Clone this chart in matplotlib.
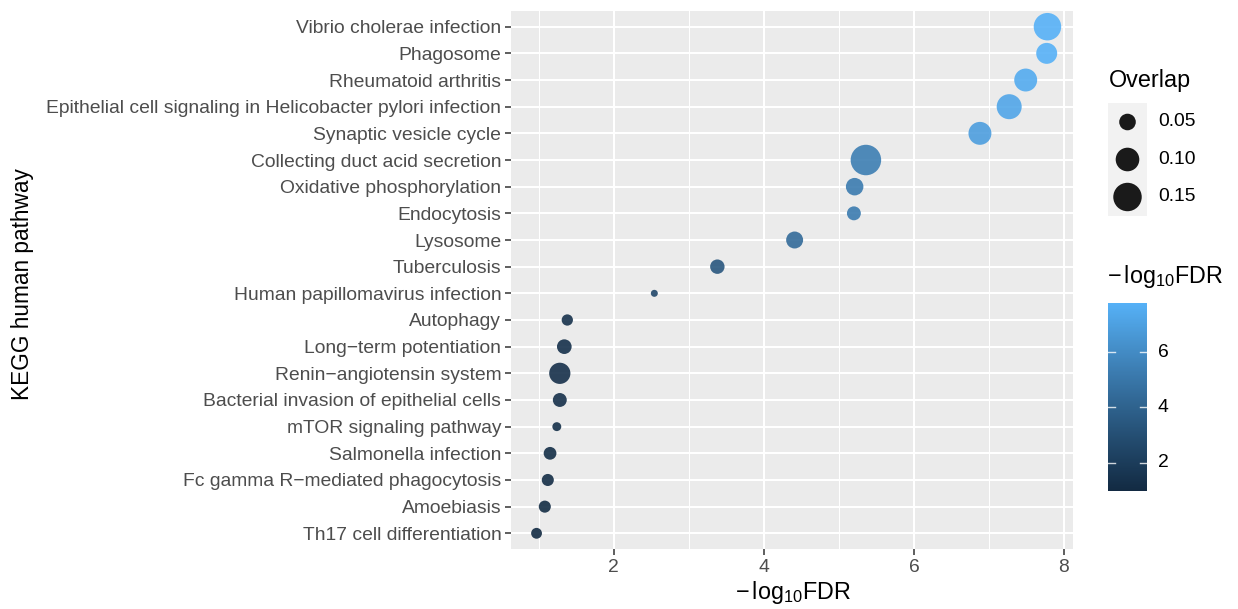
import numpy as np
import matplotlib
matplotlib.use("Agg")
import matplotlib.pyplot as plt
from matplotlib.colors import ListedColormap, Normalize

plt.rcParams['font.family'] = ['Liberation Sans', 'DejaVu Sans']
plt.rcParams['mathtext.fontset'] = 'custom'
plt.rcParams['mathtext.rm'] = 'Liberation Sans'
plt.rcParams['mathtext.it'] = 'Liberation Sans:italic'
plt.rcParams['mathtext.bf'] = 'Liberation Sans:bold'
plt.rcParams['mathtext.sf'] = 'Liberation Sans'

pathways = [
    "Vibrio cholerae infection",
    "Phagosome",
    "Rheumatoid arthritis",
    "Epithelial cell signaling in Helicobacter pylori infection",
    "Synaptic vesicle cycle",
    "Collecting duct acid secretion",
    "Oxidative phosphorylation",
    "Endocytosis",
    "Lysosome",
    "Tuberculosis",
    "Human papillomavirus infection",
    "Autophagy",
    "Long\u2212term potentiation",
    "Renin\u2212angiotensin system",
    "Bacterial invasion of epithelial cells",
    "mTOR signaling pathway",
    "Salmonella infection",
    "Fc gamma R\u2212mediated phagocytosis",
    "Amoebiasis",
    "Th17 cell differentiation",
]
neg_log10_fdr = [7.78, 7.77, 7.49, 7.27, 6.88, 5.36, 5.21, 5.20, 4.41, 3.38,
                 2.54, 1.38, 1.34, 1.28, 1.28, 1.24, 1.15, 1.12, 1.08, 0.97]
overlap = [0.139, 0.078, 0.094, 0.113, 0.094, 0.175, 0.055, 0.038, 0.052, 0.040,
           0.025, 0.030, 0.041, 0.080, 0.038, 0.026, 0.034, 0.032, 0.032, 0.029]
size_breaks = [0.05, 0.10, 0.15]
color_breaks = [2, 4, 6]

# ---- ggplot-like Lab gradient #132B43 -> #56B1F7 ----
def hex2rgb(h):
    h = h.lstrip('#')
    return np.array([int(h[i:i + 2], 16) / 255 for i in (0, 2, 4)])

M = np.array([[0.4124564, 0.3575761, 0.1804375],
              [0.2126729, 0.7151522, 0.0721750],
              [0.0193339, 0.1191920, 0.9503041]])
WHITE = np.array([0.95047, 1.0, 1.08883])

def rgb2lab(c):
    lin = np.where(c <= 0.04045, c / 12.92, ((c + 0.055) / 1.055) ** 2.4)
    xyz = M @ lin / WHITE
    f = np.where(xyz > (6 / 29) ** 3, np.cbrt(xyz), xyz / (3 * (6 / 29) ** 2) + 4 / 29)
    return np.array([116 * f[1] - 16, 500 * (f[0] - f[1]), 200 * (f[1] - f[2])])

def lab2rgb(lab):
    fy = (lab[0] + 16) / 116
    fx = fy + lab[1] / 500
    fz = fy - lab[2] / 200
    f = np.array([fx, fy, fz])
    xyz = np.where(f > 6 / 29, f ** 3, 3 * (6 / 29) ** 2 * (f - 4 / 29)) * WHITE
    lin = np.linalg.solve(M, xyz)
    lin = np.clip(lin, 0, 1)
    c = np.where(lin <= 0.0031308, 12.92 * lin, 1.055 * lin ** (1 / 2.4) - 0.055)
    return np.clip(c, 0, 1)

lab_lo, lab_hi = rgb2lab(hex2rgb('#132B43')), rgb2lab(hex2rgb('#56B1F7'))
cmap = ListedColormap([lab2rgb(lab_lo + t * (lab_hi - lab_lo)) for t in np.linspace(0, 1, 256)])

x = np.array(neg_log10_fdr)
ov = np.array(overlap)
norm = Normalize(vmin=x.min(), vmax=x.max())

vmin, vmax = ov.min(), ov.max()
def diam_pt(v):
    size_mm = 1 + 5 * np.sqrt(np.clip((np.asarray(v) - vmin) / (vmax - vmin), 0, 1))
    return (4.7 * size_mm + 2.3) * 0.72

TXT = 13.9
TTL = 16.8
FDR_LABEL = r'$\mathregular{-\,log_{10}FDR}$'

W, H = 1238, 609
PL, PR, PT, PB = 511, 1073, 10.7, 549.3
fig = plt.figure(figsize=(W / 100, H / 100), dpi=100)
ax = fig.add_axes([PL / W, 1 - PB / H, (PR - PL) / W, (PB - PT) / H])
ax.set_facecolor('#EBEBEB')
n = len(pathways)
ypos = n - np.arange(n)

ax.scatter(x, ypos, s=diam_pt(ov) ** 2, c=x, cmap=cmap, norm=norm,
           linewidths=0, alpha=0.9, zorder=3)

rng = x.max() - x.min()
ax.set_xlim(x.min() - 0.05 * rng, x.max() + 0.05 * rng)
ax.set_ylim(0.4, n + 0.6)
ax.set_xticks([2, 4, 6, 8])
ax.set_xticks([1, 3, 5, 7], minor=True)
ax.set_yticks(ypos)
ax.set_yticklabels(pathways)
ax.grid(True, which='major', color='white', linewidth=1.5, zorder=0)
ax.grid(True, which='minor', axis='x', color='white', linewidth=0.75, zorder=0)
ax.set_axisbelow(True)
for sp in ax.spines.values():
    sp.set_visible(False)
ax.tick_params(which='major', length=4, width=1.1, color='#333333',
               labelcolor='#4D4D4D', labelsize=TXT, pad=3)
ax.tick_params(which='minor', length=0)

fig.text(793 / W, 1 - 592 / H, FDR_LABEL, fontsize=TTL, ha='center', va='center')
fig.text(22 / W, 1 - 284 / H, 'KEGG human pathway', fontsize=16.3, rotation=90,
         ha='center', va='center')

# ---- size legend ----
fig.text(1109 / W, 1 - 81 / H, 'Overlap', fontsize=TTL, va='center', ha='left')
lax = fig.add_axes([1108 / W, 1 - 216 / H, 39 / W, 113 / H])
lax.set_facecolor('#F2F2F2')
lax.set_xlim(0, 1)
lax.set_ylim(216, 103)
key_y = [122, 159.5, 197]
lax.scatter([0.5] * 3, key_y, s=diam_pt(size_breaks) ** 2, c='#1A1A1A', linewidths=0)
for s in lax.spines.values():
    s.set_visible(False)
lax.set_xticks([]); lax.set_yticks([])
for b, yy in zip(size_breaks, key_y):
    fig.text(1158 / W, 1 - yy / H, f'{b:.2f}', fontsize=TXT, va='center', ha='left')

# ---- colorbar ----
fig.text(1107 / W, 1 - 276 / H, FDR_LABEL, fontsize=TTL, va='center', ha='left')
cax = fig.add_axes([1108 / W, 1 - 491 / H, 39 / W, 188 / H])
grad = np.linspace(x.min(), x.max(), 300).reshape(-1, 1)
cax.imshow(grad, aspect='auto', cmap=cmap, norm=norm, origin='lower',
           extent=[0, 1, x.min(), x.max()])
cax.set_xlim(0, 1)
cax.set_ylim(x.min(), x.max())
for s in cax.spines.values():
    s.set_visible(False)
cax.set_xticks([]); cax.set_yticks([])
for b in color_breaks:
    cax.plot([0, 0.19], [b, b], color='white', lw=1.0, alpha=0.8)
    cax.plot([0.81, 1], [b, b], color='white', lw=1.0, alpha=0.8)
    fig.text(1158 / W, cax.transData.transform((0, b))[1] / H, str(b),
             fontsize=TXT, va='center', ha='left')

fig.savefig('out.png', dpi=100)
